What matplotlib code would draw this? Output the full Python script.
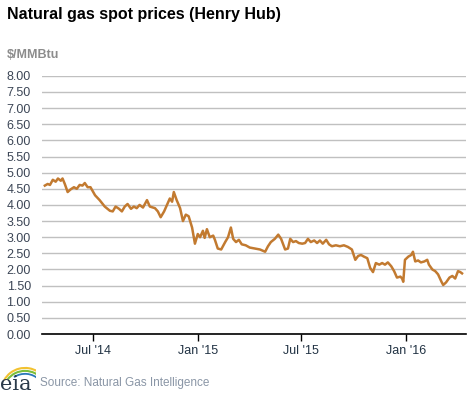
import pandas as pd
import matplotlib.pyplot as plt
from matplotlib.patches import Arc

plt.rcParams['font.family'] = ['Liberation Sans', 'DejaVu Sans']

dates = ['2014-04-08', '2014-04-13', '2014-04-17', '2014-04-22', '2014-04-27', '2014-05-01',
         '2014-05-06', '2014-05-09', '2014-05-13', '2014-05-18', '2014-05-23', '2014-05-29',
         '2014-06-03', '2014-06-08', '2014-06-13', '2014-06-17', '2014-06-22', '2014-06-27',
         '2014-07-05', '2014-07-13', '2014-07-22', '2014-07-31', '2014-08-05', '2014-08-10',
         '2014-08-16', '2014-08-21', '2014-08-26', '2014-08-31', '2014-09-06', '2014-09-11',
         '2014-09-16', '2014-09-21', '2014-09-27', '2014-10-04', '2014-10-09', '2014-10-18',
         '2014-10-23', '2014-10-28', '2014-11-03', '2014-11-08', '2014-11-13', '2014-11-17',
         '2014-11-20', '2014-11-25', '2014-12-01', '2014-12-06', '2014-12-11', '2014-12-16',
         '2014-12-22', '2014-12-27', '2015-01-01', '2015-01-05', '2015-01-10', '2015-01-13',
         '2015-01-17', '2015-01-22', '2015-01-28', '2015-01-31', '2015-02-05', '2015-02-11',
         '2015-02-18', '2015-02-23', '2015-02-28', '2015-03-04', '2015-03-09', '2015-03-14',
         '2015-03-19', '2015-03-26', '2015-04-02', '2015-04-11', '2015-04-20', '2015-04-29',
         '2015-05-04', '2015-05-09', '2015-05-16', '2015-05-22', '2015-05-27', '2015-06-03',
         '2015-06-08', '2015-06-12', '2015-06-17', '2015-06-22', '2015-06-27', '2015-07-03',
         '2015-07-08', '2015-07-13', '2015-07-18', '2015-07-24', '2015-07-29', '2015-08-03',
         '2015-08-08', '2015-08-14', '2015-08-19', '2015-08-24', '2015-08-31', '2015-09-07',
         '2015-09-14', '2015-09-21', '2015-09-28', '2015-10-04', '2015-10-09', '2015-10-14',
         '2015-10-19', '2015-10-25', '2015-10-30', '2015-11-04', '2015-11-09', '2015-11-15',
         '2015-11-20', '2015-11-25', '2015-11-30', '2015-12-06', '2015-12-11', '2015-12-16',
         '2015-12-22', '2015-12-25', '2015-12-27', '2015-12-30', '2016-01-05', '2016-01-10',
         '2016-01-13', '2016-01-17', '2016-01-22', '2016-01-27', '2016-02-02', '2016-02-07',
         '2016-02-10', '2016-02-16', '2016-02-21', '2016-02-26', '2016-03-03', '2016-03-06',
         '2016-03-11', '2016-03-17', '2016-03-22', '2016-03-27', '2016-04-01', '2016-04-05',
         '2016-04-08']

prices = [4.60, 4.65, 4.62, 4.78, 4.72, 4.82,
          4.75, 4.82, 4.65, 4.40, 4.48, 4.55,
          4.50, 4.62, 4.60, 4.68, 4.55, 4.55,
          4.30, 4.15, 3.95, 3.82, 3.80, 3.95,
          3.88, 3.80, 3.95, 4.03, 3.88, 3.95,
          3.90, 4.00, 3.92, 4.15, 3.95, 3.90,
          3.80, 3.62, 3.80, 4.00, 4.20, 4.10,
          4.40, 4.15, 3.90, 3.50, 3.70, 3.65,
          3.30, 2.80, 3.10, 3.00, 3.20, 2.98,
          3.25, 3.00, 3.05, 2.92, 2.65, 2.62,
          2.85, 3.00, 3.30, 2.95, 2.85, 2.92,
          2.78, 2.75, 2.68, 2.65, 2.62, 2.55,
          2.72, 2.85, 2.95, 3.08, 2.95, 2.62,
          2.65, 2.95, 2.85, 2.88, 2.82, 2.80,
          2.82, 2.95, 2.85, 2.90, 2.82, 2.90,
          2.80, 2.92, 2.78, 2.72, 2.75, 2.72,
          2.75, 2.70, 2.62, 2.30, 2.42, 2.45,
          2.40, 2.35, 2.05, 1.92, 2.20, 2.15,
          2.20, 2.15, 2.22, 2.10, 1.95, 1.75,
          1.78, 1.72, 1.62, 2.30, 2.40, 2.45,
          2.55, 2.25, 2.28, 2.22, 2.25, 2.30,
          2.15, 2.00, 1.95, 1.85, 1.62, 1.52,
          1.60, 1.75, 1.80, 1.72, 1.95, 1.92,
          1.88]

tick_dates = ['2014-07-01', '2015-01-01', '2015-07-01', '2016-01-01']
tick_labels = ["Jul '14", "Jan '15", "Jul '15", "Jan '16"]
y_ticks = [i * 0.5 for i in range(17)]

df = pd.DataFrame({'date': pd.to_datetime(dates), 'price': prices})

fig = plt.figure(figsize=(4.77, 3.93), dpi=100)
ax = fig.add_axes([0.088, 0.150, 0.889, 0.657])

ax.plot(df['date'], df['price'], color='#c27a30', linewidth=1.8)

ax.set_ylim(0, 8)
ax.set_xlim(pd.Timestamp('2014-04-03'), pd.Timestamp('2016-04-15'))
ax.set_yticks(y_ticks)
ax.set_yticklabels(['%.2f' % v for v in y_ticks])
ax.set_xticks(pd.to_datetime(tick_dates))
ax.set_xticklabels(tick_labels)

ax.grid(axis='y', color='#c0c0c0', linewidth=1.0)
ax.set_axisbelow(True)
for s in ['left', 'right', 'top']:
    ax.spines[s].set_visible(False)
ax.spines['bottom'].set_color('black')
ax.spines['bottom'].set_linewidth(1.2)
ax.tick_params(axis='y', length=0, pad=8, labelsize=9, labelcolor='#3c4656')
ax.tick_params(axis='x', length=5, width=1, direction='out', pad=3, labelsize=9, labelcolor='#223344')

fig.text(0.015, 0.962, 'Natural gas spot prices (Henry Hub)', fontsize=11.5, fontweight='bold',
         color='black', va='center', ha='left')
fig.text(0.015, 0.86, '$/MMBtu', fontsize=9, fontweight='bold', color='#8c8c8c', va='center', ha='left')
fig.text(0.084, 0.025, 'Source: Natural Gas Intelligence', fontsize=8.5, color='#8a96a6',
         va='center', ha='left')

# eia logo
lax = fig.add_axes([0.0, 0.0, 0.075, 0.075])
lax.set_xlim(0, 1)
lax.set_ylim(0, 1)
lax.axis('off')
lax.text(0.0, -0.05, 'eia', fontsize=15, family='DejaVu Serif', color='#2a3a4a', va='bottom', ha='left')
lax.add_patch(Arc((0.7, 0.1), 1.3, 1.5, theta1=60, theta2=150, color='#f2c230', lw=1.5))
lax.add_patch(Arc((0.7, 0.05), 1.2, 1.4, theta1=40, theta2=140, color='#7bbf3a', lw=1.5))
lax.add_patch(Arc((0.7, 0.0), 1.1, 1.3, theta1=-40, theta2=120, color='#2a78b8', lw=1.3))

fig.savefig('out.png', dpi=100)
